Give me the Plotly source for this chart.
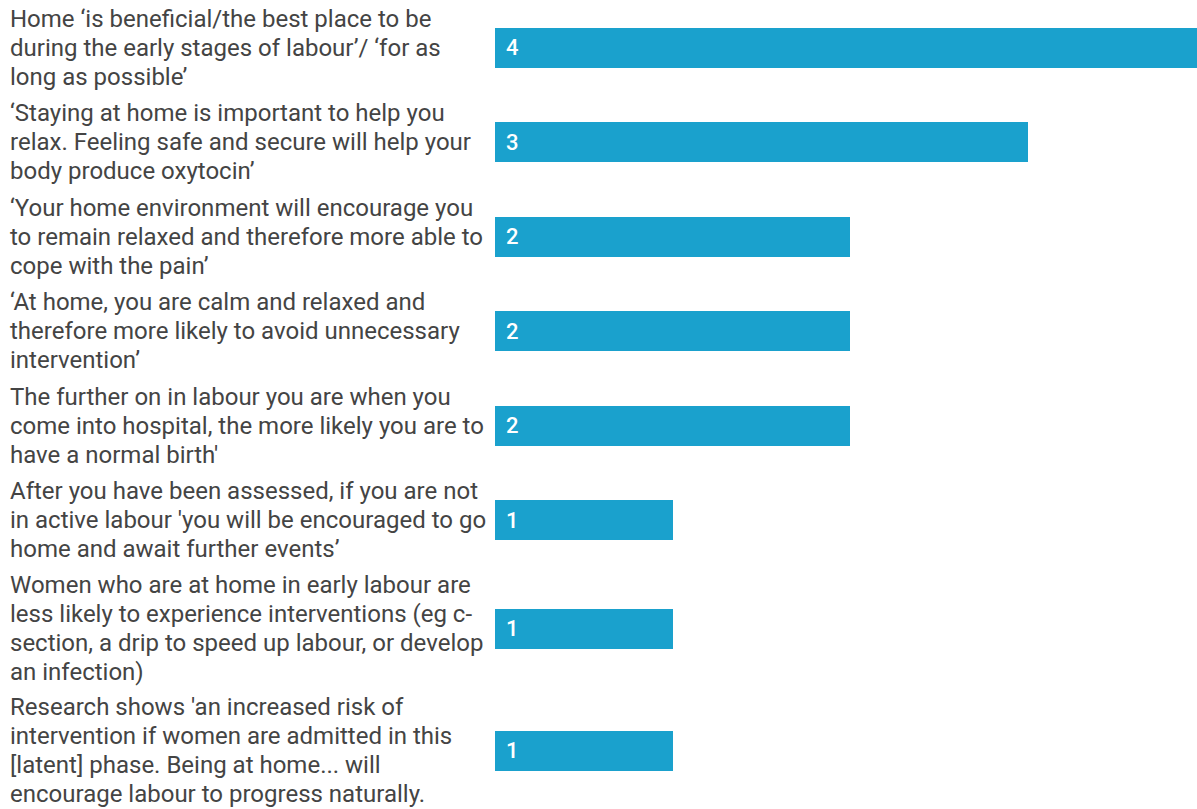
import plotly.graph_objects as go

labels = [
    "Home ‘is beneficial/the best place to be<br>during the early stages of labour’/ ‘for as<br>long as possible’",
    "‘Staying at home is important to help you<br>relax. Feeling safe and secure will help your<br>body produce oxytocin’",
    "‘Your home environment will encourage you<br>to remain relaxed and therefore more able to<br>cope with the pain’",
    "‘At home, you are calm and relaxed and<br>therefore more likely to avoid unnecessary<br>intervention’",
    "The further on in labour you are when you<br>come into hospital, the more likely you are to<br>have a normal birth'",
    "After you have been assessed, if you are not<br>in active labour 'you will be encouraged to go<br>home and await further events’",
    "Women who are at home in early labour are<br>less likely to experience interventions (eg c-<br>section, a drip to speed up labour, or develop<br>an infection)",
    "Research shows 'an increased risk of<br>intervention if women are admitted in this<br>[latent] phase. Being at home... will<br>encourage labour to progress naturally.",
]
values = [4, 3, 2, 2, 2, 1, 1, 1]

W, H = 1197, 809
ROW_LINE = 27.5   # row height per label line (layout)
ROW_PAD = 12.0
TOP = 0.5
TEXT_LH = 28.8    # text line spacing

centers = []
y = TOP
for lab in labels:
    n = lab.count("<br>") + 1
    h = n * ROW_LINE + ROW_PAD
    centers.append(y + h / 2)
    y += h

BAR_COLOR = "#1aa1cd"
TEXT_COLOR = "#444444"
FONT = "Roboto"

fig = go.Figure()
fig.add_trace(go.Bar(
    x=values, y=centers, orientation="h", width=40,
    marker=dict(color=BAR_COLOR, line=dict(width=0)),
    hoverinfo="skip",
))

ann = []
for lab, c, v in zip(labels, centers, values):
    lines = lab.split("<br>")
    n = len(lines)
    for i, line in enumerate(lines):
        ly = c + (i - (n - 1) / 2) * TEXT_LH
        ann.append(dict(
            text=line, xref="paper", yref="y", x=8 / W, y=ly,
            xanchor="left", yanchor="middle", align="left", showarrow=False,
            font=dict(family=FONT, size=24, color=TEXT_COLOR),
        ))
    ann.append(dict(
        text=str(v), xref="x", yref="y", x=0, y=c, xshift=9,
        xanchor="left", yanchor="middle", showarrow=False,
        font=dict(family=FONT, size=22, color="white", weight=500),
    ))

fig.update_layout(
    width=W, height=H,
    margin=dict(l=0, r=0, t=0, b=0),
    paper_bgcolor="white", plot_bgcolor="white",
    showlegend=False,
    xaxis=dict(domain=[495 / W, 1], range=[0, 702 / 177.7], visible=False, fixedrange=True),
    yaxis=dict(range=[H, 0], visible=False, fixedrange=True),
    annotations=ann,
    bargap=0,
)

fig.write_html("out.html")
